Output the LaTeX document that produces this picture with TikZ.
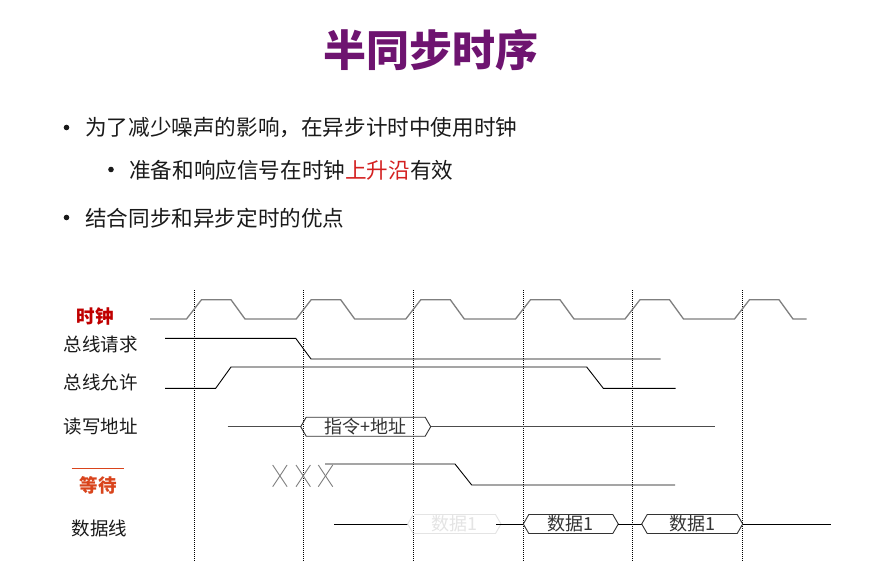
\documentclass[tikz,border=0pt]{standalone}
\usepackage{fontspec}
\newfontfamily\cjk{Noto Sans CJK SC}
\definecolor{titlepurple}{HTML}{6E1470}
\definecolor{clockred}{HTML}{C00000}
\definecolor{waitred}{HTML}{D9441C}
\definecolor{hotred}{HTML}{D42020}
\definecolor{bodytext}{HTML}{1A1A1A}
\definecolor{wavegray}{HTML}{7F7F7F}
\definecolor{faint}{HTML}{E4E4E4}
\tikzset{
  titletext/.style={font=\cjk\bfseries\fontsize{43}{43}\selectfont, text=titlepurple, inner sep=0pt},
  bodyline/.style={font=\cjk\fontsize{21.6}{21.6}\selectfont, text=bodytext, anchor=west, inner sep=0pt},
  bulletmark/.style={circle, fill=bodytext, inner sep=0pt, minimum size=5.6pt},
  siglabel/.style={font=\cjk\fontsize{18.5}{18.5}\selectfont, text=bodytext, inner sep=0pt},
  boxtext/.style={font=\cjk\fontsize{18}{18}\selectfont, text=bodytext, inner sep=0pt},
  gridline/.style={black, line width=0.5pt, dash pattern=on 1pt off 1pt},
  clockwave/.style={wavegray, line width=1.3pt},
  wave/.style={black, line width=0.9pt},
  graywave/.style={black!70, line width=0.9pt},
  xmark/.style={wavegray, line width=0.9pt},
}
\newcommand\sigbox[6]{% name, x1, x2, ymid, color, text
  \draw[#5, line width=0.9pt] (#2,#4) -- (#2+5.5,#4-9.5) -- (#3-5.5,#4-9.5) -- (#3,#4) -- (#3-5.5,#4+9.5) -- (#2+5.5,#4+9.5) -- cycle;
  \node[boxtext, text=#5] (#1) at ({(#2+#3)/2},#4) {#6};
}
\begin{document}
\begin{tikzpicture}[x=1pt,y=-1pt]
\useasboundingbox (0,0) rectangle (883,563);
\fill[white] (0,0) rectangle (883,563);

% title
\node[titletext] (title) at (430.5,50) {半同步时序};

% bullets
\node[bulletmark] (b1) at (66.5,127.5) {};
\node[bodyline] (t1) at (85,128) {为了减少噪声的影响，在异步计时中使用时钟};
\node[bulletmark] (b2) at (111,169.5) {};
\node[bodyline] (t2) at (129,170) {准备和响应信号在时钟\textcolor{hotred}{上升沿}有效};
\node[bulletmark] (b3) at (66.5,217.5) {};
\node[bodyline] (t3) at (85,218) {结合同步和异步定时的优点};

% grid lines
\foreach \c in {194,303.7,413.3,523,632.5,742}
  \draw[gridline] (\c,290) -- (\c,562);

% labels
\node[siglabel, text=clockred, font=\cjk\bfseries\fontsize{18.5}{18.5}\selectfont] (lclk) at (95,316) {时钟};
\node[siglabel] (lreq) at (100.5,344) {总线请求};
\node[siglabel] (lgnt) at (100.5,382) {总线允许};
\node[siglabel] (ladr) at (100.5,427) {读写地址};
\node[siglabel, text=waitred, font=\cjk\bfseries\fontsize{18.5}{18.5}\selectfont] (lwait) at (98.3,485) {等待};
\draw[waitred, line width=1.2pt] (71.7,468.3) -- (124,468.3);
\node[siglabel] (ldat) at (99.5,528) {数据线};

% clock
\draw[clockwave] (150,319)
  \foreach \c in {194,303.7,413.3,523,632.5,742}{ -- (\c-7.5,319) -- (\c+7.5,299.7) -- (\c+37,299.7) -- (\c+51,319)}
  -- (806.7,319);

% bus request
\draw[wave] (165,338.3) -- (295.7,338.3) -- (311,359) -- (660.7,359);
% bus grant
\draw[wave] (165,388.3) -- (215.7,388.3) -- (231,367) -- (586.7,367) -- (603.3,388.3) -- (675.7,388.3);

% address
\draw[graywave] (227.7,426.7) -- (300.7,426.7);
\sigbox{addr}{300.7}{430.7}{426.7}{black!80}{指令+地址}
\draw[graywave] (430.7,426.7) -- (715,426.7);

% wait
\foreach \a in {272.7,296,318.3}{
  \draw[xmark] (\a,465) -- (\a+14.4,486.7);
  \draw[xmark] (\a,486.7) -- (\a+14.4,465);
}
\draw[wave] (325,464) -- (455,464) -- (471.7,485) -- (675,485);

% data
\draw[wave] (334,524) -- (407.7,524);
\sigbox{d0}{407.7}{501}{524}{faint}{数据1}
\draw[wave] (496,524) -- (523.3,524);
\sigbox{d1}{523.3}{618.3}{524}{black!80}{数据1}
\draw[wave] (618.3,524) -- (641.7,524);
\sigbox{d2}{641.7}{742.7}{524}{black!80}{数据1}
\draw[wave] (742.7,524) -- (830.7,524);
\end{tikzpicture}
\end{document}
